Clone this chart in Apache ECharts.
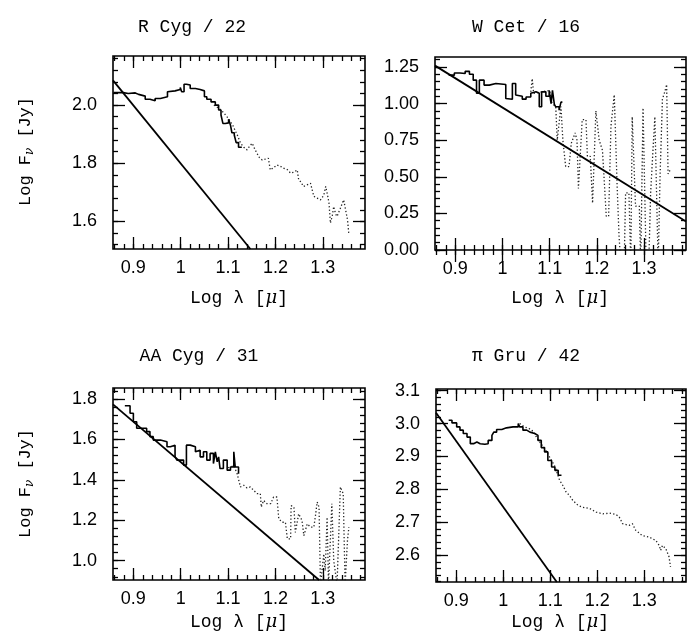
<!DOCTYPE html>
<html><head><meta charset="utf-8">
<script src="https://cdn.jsdelivr.net/npm/echarts@6/dist/echarts.min.js"></script>
<style>html,body{margin:0;padding:0;background:#fff}#c{width:688px;height:635px}</style>
</head><body><div id="c"></div>
<script>
// ---------- text ----------
const titles = ['R Cyg / 22', 'W Cet / 16', 'AA Cyg / 31', 'π Gru / 42'];
const xTickValues = [0.9, 1.0, 1.1, 1.2, 1.3];
const xTickLabels = ['0.9', '1', '1.1', '1.2', '1.3'];
const yTickValuesRCyg = [1.6, 1.8, 2.0];
const yTickLabelsRCyg = ['1.6', '1.8', '2.0'];
const yTickValuesWCet = [0, 0.25, 0.5, 0.75, 1.0, 1.25];
const yTickLabelsWCet = ['0.00', '0.25', '0.50', '0.75', '1.00', '1.25'];
const yTickValuesAACyg = [1.0, 1.2, 1.4, 1.6, 1.8];
const yTickLabelsAACyg = ['1.0', '1.2', '1.4', '1.6', '1.8'];
const yTickValuesPiGru = [2.6, 2.7, 2.8, 2.9, 3.0, 3.1];
const yTickLabelsPiGru = ['2.6', '2.7', '2.8', '2.9', '3.0', '3.1'];

// ---------- data: [log lambda, log F] ----------
// R Cyg
const rcygFit = [[0.857, 2.085], [1.147, 1.505]];
const rcygSpectrum = [[0.858,2.043],[0.879,2.040],[0.889,2.042],[0.904,2.037],[0.911,2.031],[0.925,2.020],[0.935,2.015],[0.946,2.023],[0.957,2.029],[0.972,2.046],[0.976,2.049],[0.988,2.054],[0.999,2.061],[1.002,2.046],[1.007,2.072],[1.012,2.069],[1.020,2.057],[1.031,2.054],[1.041,2.049],[1.050,2.029],[1.055,2.020],[1.064,2.011],[1.073,2.000],[1.080,1.983],[1.085,1.966],[1.089,1.937],[1.094,1.939],[1.101,1.951],[1.105,1.931],[1.108,1.905],[1.113,1.897],[1.117,1.871],[1.122,1.855],[1.129,1.855]];
const rcygExtension = [[1.07,2.0],[1.08,1.99],[1.09,1.975],[1.10,1.955],[1.11,1.93],[1.12,1.895],[1.126,1.87],[1.133,1.855],[1.140,1.846],[1.146,1.86],[1.151,1.869],[1.156,1.85],[1.161,1.834],[1.166,1.82],[1.172,1.811],[1.18,1.815],[1.185,1.817],[1.189,1.777],[1.196,1.785],[1.203,1.794],[1.21,1.79],[1.217,1.783],[1.225,1.778],[1.232,1.766],[1.24,1.77],[1.246,1.777],[1.249,1.743],[1.254,1.735],[1.259,1.72],[1.266,1.725],[1.274,1.731],[1.281,1.686],[1.288,1.68],[1.295,1.674],[1.302,1.69],[1.306,1.72],[1.310,1.69],[1.313,1.663],[1.316,1.594],[1.320,1.62],[1.323,1.651],[1.327,1.625],[1.330,1.617],[1.337,1.645],[1.344,1.674],[1.348,1.64],[1.352,1.606],[1.355,1.554]];
// W Cet
const wcetFit = [[0.857, 1.259], [1.389, 0.195]];
const wcetSpectrum = [[0.886,1.194],[0.898,1.209],[0.910,1.205],[0.921,1.22],[0.930,1.20],[0.938,1.16],[0.945,1.07],[0.951,1.16],[0.961,1.126],[0.972,1.137],[0.986,1.13],[1.007,1.035],[1.011,1.03],[1.021,1.137],[1.028,1.058],[1.032,1.05],[1.042,1.03],[1.050,1.045],[1.060,1.07],[1.064,1.08],[1.071,1.07],[1.078,0.978],[1.083,1.08],[1.092,1.05],[1.099,1.09],[1.103,1.0],[1.106,1.09],[1.110,0.995],[1.113,0.978],[1.120,0.955],[1.124,1.01],[1.127,1.01]];
const wcetExtension = [[1.060,1.08],[1.063,1.17],[1.066,1.07],[1.10,1.09],[1.105,1.0],[1.113,0.98],[1.116,0.75],[1.124,0.98],[1.128,0.75],[1.134,0.57],[1.141,0.57],[1.146,0.73],[1.154,0.80],[1.158,0.75],[1.161,0.42],[1.165,0.42],[1.169,0.89],[1.177,0.89],[1.180,0.64],[1.186,0.64],[1.191,0.32],[1.195,0.32],[1.198,0.95],[1.202,0.95],[1.205,0.75],[1.212,0.68],[1.216,0.68],[1.220,0.23],[1.225,0.23],[1.230,0.85],[1.237,1.06],[1.240,1.06],[1.243,0.44],[1.247,0.1],[1.251,-0.1],[1.258,-0.1],[1.261,0.39],[1.268,0.39],[1.272,-0.1],[1.275,0.91],[1.279,0.91],[1.282,0.30],[1.290,0.30],[1.293,-0.1],[1.298,0.97],[1.302,0.97],[1.304,0.0],[1.310,-0.1],[1.314,0.39],[1.318,0.39],[1.323,0.91],[1.327,0.91],[1.330,-0.1],[1.334,0.50],[1.339,1.03],[1.344,1.08],[1.348,1.13],[1.351,0.52],[1.356,0.55]];
// AA Cyg
const aacygFit = [[0.857, 1.774], [1.292, 0.904]];
const aacygSpectrum = [[0.882,1.767],[0.893,1.730],[0.900,1.688],[0.907,1.656],[0.914,1.656],[0.928,1.639],[0.935,1.614],[0.942,1.597],[0.957,1.589],[0.971,1.564],[0.978,1.572],[0.988,1.514],[0.992,1.498],[1.006,1.473],[1.012,1.572],[1.020,1.564],[1.031,1.539],[1.034,1.547],[1.041,1.514],[1.048,1.539],[1.055,1.498],[1.062,1.531],[1.069,1.481],[1.073,1.539],[1.077,1.489],[1.080,1.514],[1.083,1.456],[1.090,1.498],[1.098,1.448],[1.105,1.464],[1.112,1.539],[1.115,1.464],[1.122,1.43]];
const aacygExtension = [[1.10,1.46],[1.112,1.47],[1.119,1.431],[1.126,1.365],[1.133,1.373],[1.14,1.36],[1.147,1.365],[1.154,1.348],[1.161,1.332],[1.168,1.332],[1.170,1.265],[1.175,1.298],[1.182,1.282],[1.19,1.282],[1.196,1.315],[1.203,1.315],[1.207,1.207],[1.214,1.19],[1.221,1.19],[1.225,1.108],[1.232,1.108],[1.233,1.272],[1.239,1.265],[1.242,1.14],[1.249,1.232],[1.256,1.199],[1.260,1.124],[1.267,1.182],[1.274,1.166],[1.281,1.166],[1.285,1.232],[1.288,1.29],[1.292,1.265],[1.295,0.88],[1.302,1.033],[1.305,0.95],[1.309,1.215],[1.312,0.88],[1.319,1.282],[1.323,1.0],[1.330,0.88],[1.337,1.365],[1.343,1.332],[1.347,0.88],[1.352,1.1],[1.355,1.166]];
// pi Gru
const pigruFit = [[0.857, 3.033], [1.114, 2.519]];
const pigruSpectrum = [[0.884,3.010],[0.891,3.002],[0.901,2.990],[0.908,2.980],[0.915,2.970],[0.923,2.959],[0.930,2.939],[0.937,2.944],[0.944,2.939],[0.951,2.937],[0.961,2.939],[0.968,2.949],[0.976,2.964],[0.980,2.974],[0.986,2.982],[0.997,2.987],[1.007,2.990],[1.021,2.990],[1.032,3.000],[1.035,2.990],[1.042,2.980],[1.050,2.974],[1.057,2.970],[1.067,2.964],[1.074,2.949],[1.081,2.927],[1.088,2.914],[1.095,2.888],[1.103,2.868],[1.110,2.858],[1.117,2.843],[1.124,2.843]];
const pigruExtension = [[1.035,3.0],[1.045,2.99],[1.055,2.985],[1.065,2.975],[1.072,2.955],[1.08,2.94],[1.09,2.92],[1.10,2.895],[1.11,2.87],[1.12,2.828],[1.127,2.812],[1.134,2.792],[1.141,2.782],[1.148,2.767],[1.159,2.752],[1.169,2.746],[1.184,2.742],[1.198,2.731],[1.212,2.726],[1.226,2.728],[1.24,2.724],[1.247,2.716],[1.254,2.696],[1.268,2.691],[1.275,2.696],[1.282,2.676],[1.296,2.66],[1.311,2.655],[1.325,2.645],[1.332,2.63],[1.335,2.615],[1.339,2.63],[1.346,2.62],[1.353,2.595],[1.356,2.565]];

// ---------- layout ----------
function range(a, b, s) { const r = []; for (let v = a; v <= b + 1e-9; v += s) r.push(+v.toFixed(4)); return r; }
function fmt(vals, labs) { return v => { for (let i = 0; i < vals.length; i++) if (Math.abs(vals[i] - v) < 1e-6) return labs[i]; return ''; }; }

const panels = [
  { grid: {left:113, top:56, width:252, height:193}, xr:[0.857,1.389], yr:[1.505,2.169], yv:yTickValuesRCyg, yl:yTickLabelsRCyg, ym:range(1.52,2.16,0.04), fit:rcygFit, spec:rcygSpectrum, ext:rcygExtension },
  { grid: {left:435, top:57, width:251, height:193}, xr:[0.857,1.389], yr:[0,1.318], yv:yTickValuesWCet, yl:yTickLabelsWCet, ym:range(0,1.30,0.05), fit:wcetFit, spec:wcetSpectrum, ext:wcetExtension },
  { grid: {left:113, top:388, width:252, height:192}, xr:[0.857,1.389], yr:[0.904,1.855], yv:yTickValuesAACyg, yl:yTickLabelsAACyg, ym:range(0.92,1.84,0.04), fit:aacygFit, spec:aacygSpectrum, ext:aacygExtension },
  { grid: {left:436, top:389, width:250, height:193}, xr:[0.857,1.389], yr:[2.519,3.105], yv:yTickValuesPiGru, yl:yTickLabelsPiGru, ym:range(2.52,3.10,0.02), fit:pigruFit, spec:pigruSpectrum, ext:pigruExtension }
];
const xMinor = range(0.86, 1.38, 0.02);

const grid = [], xAxis = [], yAxis = [], series = [];
const tickStyle = {color:'#000', width:1.3};
const labelFont = {fontFamily:'"Liberation Sans", Arial, sans-serif', fontSize:18, color:'#000'};
panels.forEach((p, gi) => {
  grid.push(Object.assign({show:true, borderColor:'#000', borderWidth:1.6, backgroundColor:'transparent'}, p.grid));
  const base = (pos, r, major) => ({gridIndex:gi, type:'value', position:pos, min:r[0], max:r[1],
    axisLine:{show:false}, splitLine:{show:false}, axisPointer:{show:false},
    axisTick:{show:true, inside:true, length: major ? 12 : 5, lineStyle:tickStyle}});
  // x axes
  const xb = base('bottom', p.xr, true);
  xb.axisTick.customValues = xTickValues;
  xb.axisLabel = Object.assign({show:true, customValues:xTickValues, formatter:fmt(xTickValues, xTickLabels), margin:10}, labelFont);
  xAxis.push(xb);
  [['bottom', false], ['top', true], ['top', false]].forEach(([pos, major]) => {
    const a = base(pos, p.xr, major);
    a.axisTick.customValues = major ? xTickValues : xMinor;
    a.axisLabel = {show:false};
    xAxis.push(a);
  });
  // y axes
  const yl = base('left', p.yr, true);
  yl.axisTick.customValues = p.yv;
  yl.axisLabel = Object.assign({show:true, customValues:p.yv, formatter:fmt(p.yv, p.yl), margin:16}, labelFont);
  yAxis.push(yl);
  [['left', false], ['right', true], ['right', false]].forEach(([pos, major]) => {
    const a = base(pos, p.yr, major);
    a.axisTick.customValues = major ? p.yv : p.ym;
    a.axisLabel = {show:false};
    yAxis.push(a);
  });
  const xi = gi * 4, yi = gi * 4;
  series.push({type:'line', xAxisIndex:xi, yAxisIndex:yi, data:p.ext, showSymbol:false, symbol:'none', silent:true, clip:true,
    lineStyle:{color:'#222', width:1.3, type:[1.3, 2.2]}, z:2});
  series.push({type:'line', xAxisIndex:xi, yAxisIndex:yi, data:p.spec, step:'end', showSymbol:false, symbol:'none', silent:true, clip:true,
    lineStyle:{color:'#000', width:1.6}, z:3});
  series.push({type:'line', xAxisIndex:xi, yAxisIndex:yi, data:p.fit, showSymbol:false, symbol:'none', silent:true, clip:true,
    lineStyle:{color:'#000', width:1.8}, z:4});
});

// ---------- annotations ----------
const mono = '"Liberation Mono", "DejaVu Sans Mono", monospace';
const titlePos = [[192, 27], [526, 27], [199, 356], [526, 356]];
const graphic = [];
titles.forEach((t, i) => graphic.push({type:'text', x:titlePos[i][0], y:titlePos[i][1],
  style:{text:t, font:'18px ' + mono, fill:'#000', align:'center', verticalAlign:'middle', textAlign:'center', textVerticalAlign:'middle'}}));
const xLabelPos = [[239, 298], [560, 298], [239, 622], [560, 622]];
xLabelPos.forEach(([x, y]) => graphic.push({type:'text', x:x, y:y,
  style:{text:'{a|Log λ [}{b|μ}{a|]}', align:'center', verticalAlign:'middle', textAlign:'center', textVerticalAlign:'middle',
    rich:{a:{fontFamily:mono, fontSize:18, fill:'#000', color:'#000'}, b:{fontFamily:'"DejaVu Serif", serif', fontStyle:'italic', fontSize:18, fill:'#000', color:'#000'}}}}));
const yLabelPos = [[25, 152], [25, 484]];
yLabelPos.forEach(([x, y]) => graphic.push({type:'group', x:x, y:y, rotation:Math.PI / 2, children:[
  {type:'text', x:-54, y:0, style:{text:'Log F', font:'17px ' + mono, fill:'#000', align:'left', verticalAlign:'middle', textAlign:'left', textVerticalAlign:'middle'}},
  {type:'text', x:-3, y:5, style:{text:'ν', font:'italic 12px "DejaVu Serif", serif', fill:'#000', align:'left', verticalAlign:'middle', textAlign:'left', textVerticalAlign:'middle'}},
  {type:'text', x:4, y:0, style:{text:' [Jy]', font:'17px ' + mono, fill:'#000', align:'left', verticalAlign:'middle', textAlign:'left', textVerticalAlign:'middle'}}
]}));

const chart = echarts.init(document.getElementById('c'), null, {renderer:'canvas'});
chart.setOption({animation:false, backgroundColor:'#fff', grid, xAxis, yAxis, series, graphic});
</script>
</body></html>
